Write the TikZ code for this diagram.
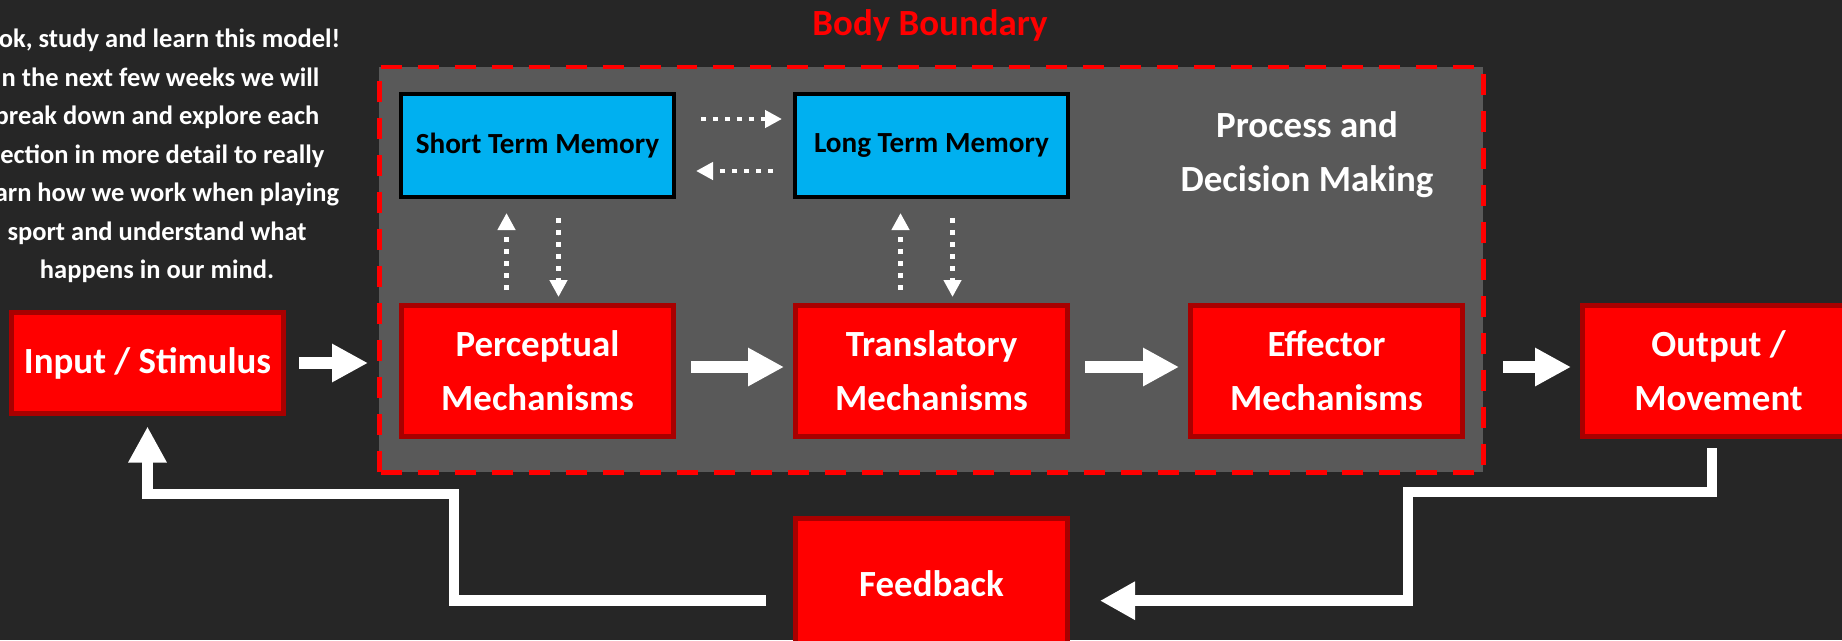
\documentclass[tikz,border=0pt]{standalone}
\usepackage{fontspec}
\setmainfont{Carlito}
\usepackage{tikz}
\usetikzlibrary{arrows.meta, positioning}
\definecolor{bgdark}{HTML}{262626}
\definecolor{bodygray}{HTML}{595959}
\definecolor{boxred}{HTML}{FF0000}
\definecolor{edgered}{HTML}{A80000}
\definecolor{memblue}{HTML}{00B0F0}
\tikzset{
	mech/.style={draw=edgered, fill=boxred, line width=1.42pt, minimum width=2.72cm, minimum height=1.31cm,
		inner sep=0pt, text=white, align=center, font=\fontsize{10.5}{15.4}\selectfont\bfseries},
	mem/.style={draw=black, fill=memblue, line width=1.14pt, minimum width=2.73cm, minimum height=1.03cm,
		inner sep=0pt, font=\fontsize{8.3}{10}\selectfont\bfseries},
	flow/.style={white, line width=3.24pt, -{Triangle[width=0.36cm,length=0.36cm]}},
	loopline/.style={white, line width=3.1pt},
	recall/.style={white, line width=1.42pt, dash pattern=on 1.42pt off 1.99pt, -{Triangle[width=0.17cm,length=0.17cm]}}
}

\begin{document}
\begin{tikzpicture}

		\useasboundingbox (0,0) rectangle (18.42,6.40);
		\fill[bgdark] (0,0) rectangle (18.42,6.40);
		
		% body boundary
		\fill[bodygray] (3.79,1.68) rectangle (14.83,5.73);
		\draw[boxred, line width=1.42pt, dash pattern=on 5.97pt off 4.55pt] (3.79,1.68) rectangle (14.83,5.73);
		\node [text=boxred, font=\fontsize{10.5}{12}\selectfont\bfseries] (title) at (9.30,6.15) {Body Boundary};
		
		\node [text=white, align=center, font=\fontsize{7.54}{10.98}\selectfont\bfseries] (intro) at (1.57,4.84)
		{Look, study and learn this model!\\In the next few weeks we will\\break down and explore each\\section in more detail to really\\learn how we work when playing\\sport and understand what\\happens in our mind.};
		\node [text=white, align=center, font=\fontsize{10.5}{15.4}\selectfont\bfseries] (proc) at (13.07,4.855) {Process and\\Decision Making};
		
		\node [mem] (stm) at (5.375,4.945) {Short Term Memory};
		\node [mem] (ltm) at (9.315,4.945) {Long Term Memory};
		
		\node [mech, minimum height=1.01cm] (inp) at (1.475,2.77) {Input / Stimulus};
		\node [mech] (perc) at (5.375,2.69) {Perceptual\\Mechanisms};
		\node [mech] (trans) at (9.315,2.69) {Translatory\\Mechanisms};
		\node [mech] (eff) at (13.265,2.69) {Effector\\Mechanisms};
		\node [mech] (out) at (17.185,2.69) {Output /\\Movement};
		\node [mech] (fb) at (9.315,0.56) {Feedback};
		
		\coordinate (bendR) at (14.08,1.48);
		\coordinate (bendL) at (4.54,1.46);
		
		\draw[flow, shorten <=0.13cm, shorten >=0.31cm] (inp.east) -- (inp.east -| perc.west);
		\draw[flow, shorten <=0.15cm, shorten >=0.09cm] ([yshift=0.04cm]perc.east) -- ([yshift=0.04cm]trans.west);
		\draw[flow, shorten <=0.15cm, shorten >=0.09cm] ([yshift=0.04cm]trans.east) -- ([yshift=0.04cm]eff.west);
		\draw[flow, shorten <=0.38cm, shorten >=0.09cm] ([yshift=0.04cm]eff.east) -- ([yshift=0.04cm]out.west);
		
		% feedback loop
		\draw[loopline, -{Triangle[width=0.36cm,length=0.35cm]}, shorten <=0.09cm, shorten >=0.30cm]
		([xshift=-0.065cm]out.south) |- (bendR) |- ([yshift=-0.167cm]fb.east);
		\draw[loopline, -{Triangle[width=0.36cm,length=0.36cm]}, shorten <=0.27cm, shorten >=0.105cm]
		([yshift=-0.167cm]fb.west) -| (bendL) -| (inp.south);
		
		% memory links
		\draw[recall, shorten <=0.25cm, shorten >=0.11cm] ([yshift=0.265cm]stm.east) -- ([yshift=0.265cm]ltm.west);
		\draw[recall, shorten <=0.20cm, shorten >=0.20cm] ([yshift=-0.255cm]ltm.west) -- ([yshift=-0.255cm]stm.east);
		\foreach \m/\p in {stm/perc, ltm/trans}
		{\draw[recall, shorten <=0.13cm, shorten >=0.14cm] ([xshift=-0.31cm]\p.north) -- ([xshift=-0.31cm]\m.south);
		 \draw[recall, shorten <=0.19cm, shorten >=0.06cm] ([xshift=0.21cm]\m.south) -- ([xshift=0.21cm]\p.north);
		}
		\end{tikzpicture}
\end{document}
